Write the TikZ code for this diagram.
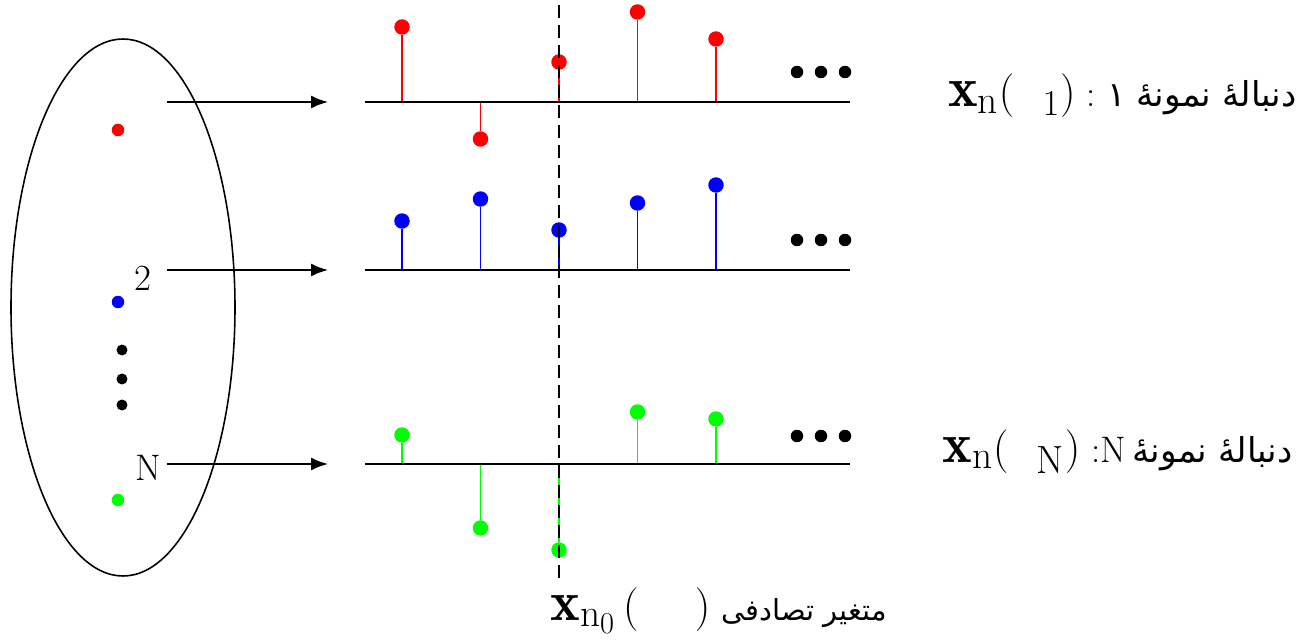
\documentclass[tikz,border=0pt]{standalone}
\usepackage{amsmath,amssymb}
\usepackage{fontspec}
\usetikzlibrary{arrows.meta}
\newfontfamily\arabicfont[Script=Arabic]{DejaVu Sans}
\TeXXeTstate=1
\newcommand{\mathbig}{\fontsize{32}{36}\selectfont}
\newcommand{\labelsize}{\fontsize{21}{24}\selectfont}
\newcommand{\farsi}{\arabicfont\fontsize{19.5}{23}\selectfont}
\newcommand{\farsismall}{\arabicfont\fontsize{16.5}{20}\selectfont}

\begin{document}
\begin{tikzpicture}[
  x=0.02cm, y=-0.02cm, >={Latex[length=3.4mm, width=2.6mm]},
  every node/.style={font=\labelsize},
  tip/.style={circle, fill=#1, inner sep=0pt, minimum size=3.1mm},
  member/.style={circle, fill=#1, inner sep=0pt, minimum size=2.5mm},
  stem/.style={draw=#1, line width=1pt},
  axis/.style={line width=1.1pt},
  more/.style={circle, fill=black, inner sep=0pt, minimum size=2.5mm},
  seqlabel/.style={anchor=base east, inner sep=0pt}
]
  \useasboundingbox (0,0) rectangle (1303,642);

  % sample space
  \draw[line width=0.9pt] (123,307.5) ellipse [x radius=112, y radius=268.5];
  \node[member=red] (s1) at (118,130) {};
  \node[member=blue] (s2) at (118,302) {};
  \node[member=green] (sN) at (118,500) {};
  \foreach \y [count=\i] in {350,379,405}
    \node[more, minimum size=2.2mm] (v\i) at (122,\y) {};
  \node (l2) at (143,278) {2};
  \node (lN) at (148,468) {N};

  % arrows to the sequences
  \foreach \r/\y in {1/102, 2/270, N/464} {
    \coordinate (a\r) at (167,\y);
    \coordinate (b\r) at (328,\y);
    \draw[->, line width=1pt] (a\r) -- (b\r);
    \coordinate (o\r) at (365,\y);
    \coordinate (e\r) at (850,\y);
  }

  % sample sequences
  \foreach \k/\h in {1/27, 2/139, 3/62, 4/12, 5/39} {
    \coordinate (p1\k) at ({402+78.5*(\k-1)},102);
    \node[tip=red] (q1\k) at ({402+78.5*(\k-1)},\h) {};
    \draw[stem=red] (p1\k) -- (q1\k);
  }
  \foreach \k/\h in {1/221, 2/199, 3/230, 4/203, 5/185} {
    \coordinate (p2\k) at ({402+78.5*(\k-1)},270);
    \node[tip=blue] (q2\k) at ({402+78.5*(\k-1)},\h) {};
    \draw[stem=blue] (p2\k) -- (q2\k);
  }
  \foreach \k/\h in {1/435, 2/528, 3/550, 4/412, 5/419} {
    \coordinate (pN\k) at ({402+78.5*(\k-1)},464);
    \node[tip=green] (qN\k) at ({402+78.5*(\k-1)},\h) {};
    \draw[stem=green] (pN\k) -- (qN\k);
  }
  \foreach \r in {1,2,N}
    \draw[axis] (o\r) -- (e\r);

  % continuation dots
  \foreach \r/\y in {1/72, 2/240, N/436}
    \foreach \x [count=\j] in {797,821,845}
      \node[more] (m\r\j) at (\x,\y) {};

  % time instant n0
  \coordinate (t0) at (559,5);
  \coordinate (t1) at (559,578);
  \draw[dash pattern=on 2.6mm off 1.4mm, line width=0.8pt] (t0) -- (t1);

  % labels
  \node[seqlabel] (name1) at (1297,107)
    {{\mathbig$\mathbf{x}_{\mathrm{n}}(\enspace{}_{1})$}\ :\ {\farsi\beginR دنبالهٔ نمونهٔ ۱\endR}};
  \node[seqlabel] (nameN) at (1293,462)
    {{\mathbig$\mathbf{x}_{\mathrm{n}}(\enspace{}_{\mathrm{N}})$}\ :N\,{\farsi\beginR دنبالهٔ نمونهٔ\endR}};
  \node[seqlabel] (rv) at (887,620)
    {{\mathbig$\mathbf{x}_{\mathrm{n}_0}\,(\quad)$}\ {\farsismall\beginR متغیر تصادفی\endR}};
\end{tikzpicture}
\end{document}
